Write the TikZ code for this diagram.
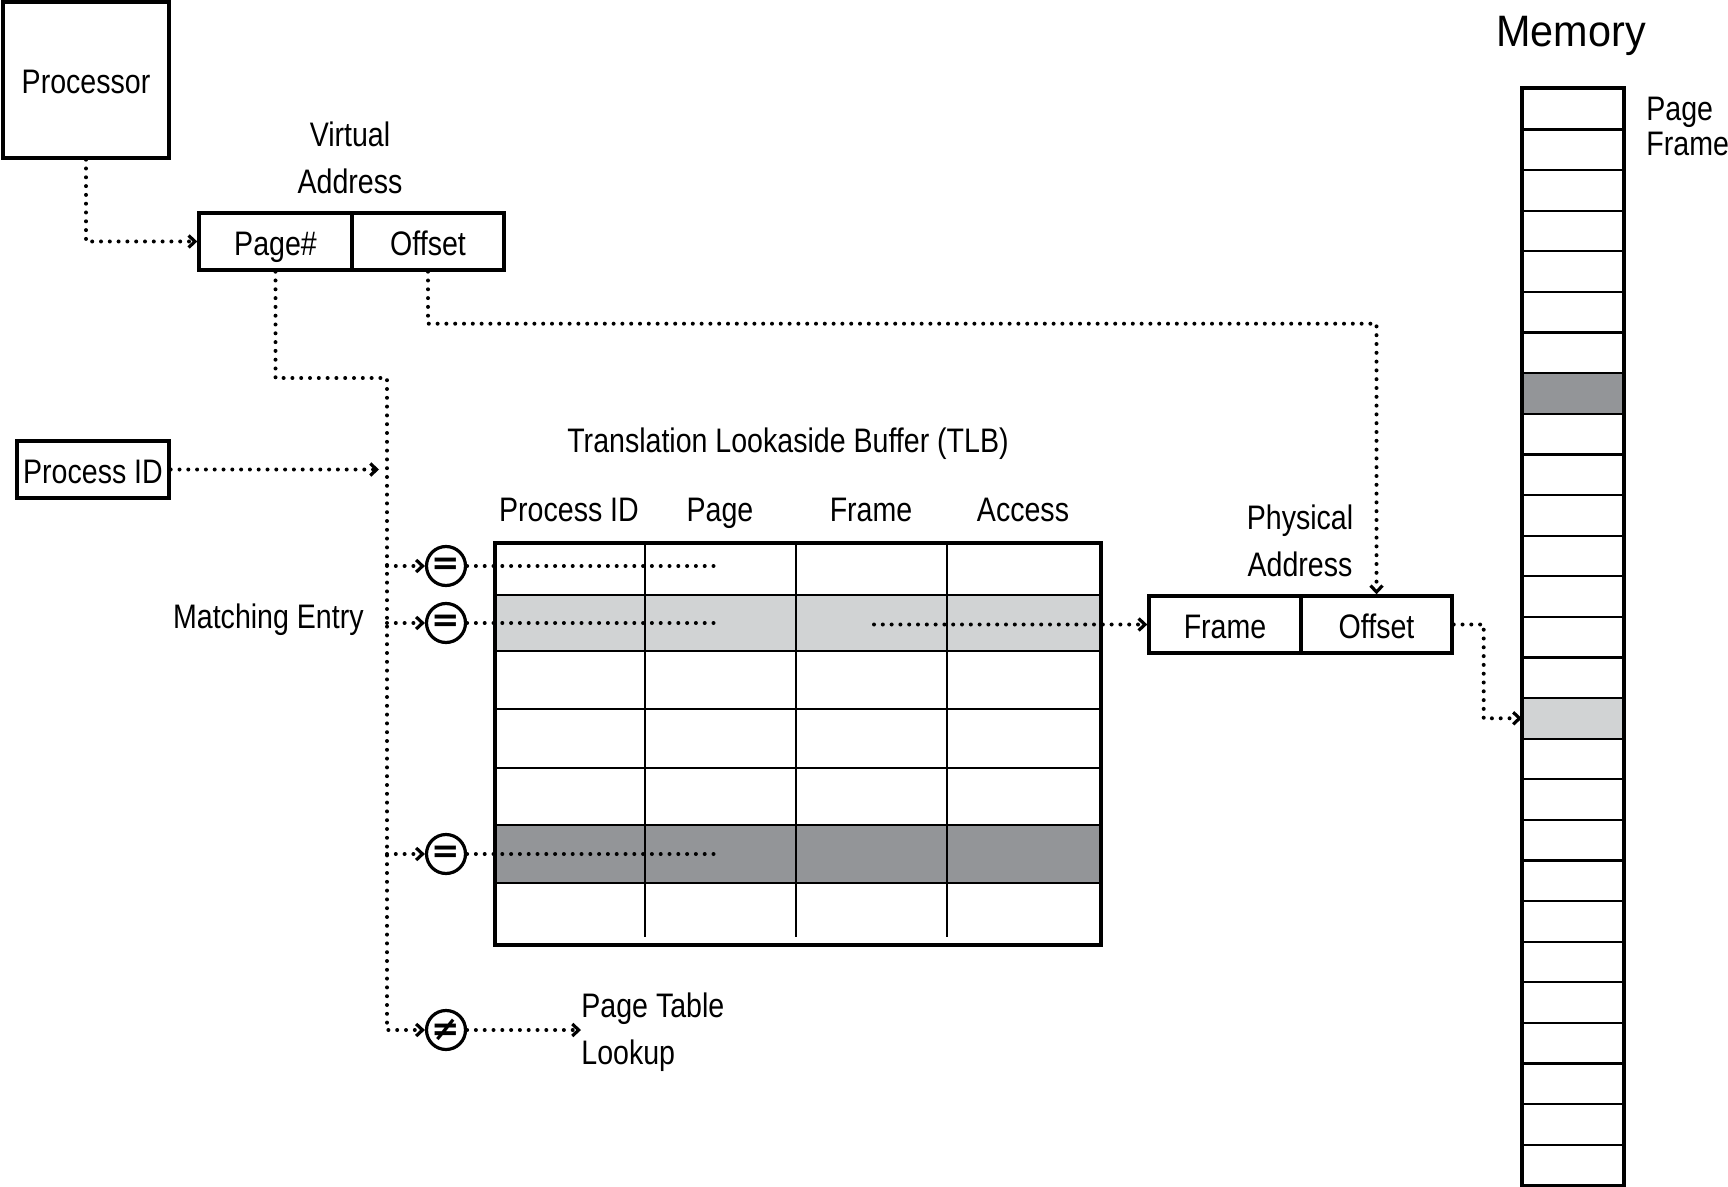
\documentclass[tikz,border=0pt]{standalone}
\usepackage{fontspec}
\setmainfont{Liberation Sans}[FakeStretch=0.84]
\newfontfamily\memfont{Liberation Sans}[FakeStretch=0.94]
\newfontfamily\symfont{DejaVu Sans}
\usetikzlibrary{arrows.meta,calc}
\definecolor{lightg}{HTML}{D1D3D4}
\definecolor{darkg}{HTML}{939598}
\begin{document}
\begin{tikzpicture}[x=0.5pt,y=-0.5pt,
  lab/.style={font=\fontsize{17}{23.5}\selectfont, inner sep=0pt},
  one/.style={text height=17pt, text depth=3.2pt},
  box/.style={draw, line width=1.7pt, inner sep=0pt, font=\fontsize{17}{20}\selectfont, minimum height=28.5pt, one},
  eqc/.style={circle, draw, line width=1.6pt, minimum size=19.5pt, inner sep=0pt, font=\symfont\bfseries\fontsize{17}{17}\selectfont},
  dotl/.style={line width=2pt, line cap=round, dash pattern=on 0pt off 4.4pt},
  arr/.style={dotl, -{Straight Barb[length=3.2pt,width=6pt,line width=1.6pt]}},
  memcell/.style={draw, line width=1.1pt, minimum width=50pt, minimum height=20.3pt, inner sep=0pt},
  thinl/.style={line width=1.1pt},
  thickl/.style={line width=2pt},
]
\useasboundingbox (0,0) rectangle (1728,1187);

% Processor and virtual address
\node[box, minimum width=83pt, minimum height=78pt] (proc) at (86,80) {Processor};
\node[lab, align=center] (valab) at (350,157.5) {Virtual\\Address};
\node[box, minimum width=76.5pt] (pg) at (275.5,241.5) {Page\#};
\node[box, minimum width=76pt] (off) at (428,241.5) {Offset};
\node[box, minimum width=76pt] (pid) at (93,469.5) {Process ID};

% TLB
\node[lab, one] (tlbt) at (788,439) {Translation Lookaside Buffer (TLB)};
\node[lab, one] (h1) at (569,507.3) {Process ID};
\node[lab, one] (h2) at (720,507.3) {Page};
\node[lab, one] (h3) at (871,507.3) {Frame};
\node[lab, one] (h4) at (1023,507.3) {Access};
\fill[lightg] (493,595) rectangle (1099,651);
\fill[darkg] (493,825) rectangle (1099,883);
\foreach \y in {595,651,709,768,825,883} \draw[thinl] (493,\y) -- (1099,\y);
\foreach \x in {645,796,947} \draw[thinl] (\x,541) -- (\x,937);
\node[draw, thickl, minimum width=303pt, minimum height=201pt, anchor=north west, inner sep=0pt] (tlb) at (493,541) {};

\node[lab, one, anchor=east] (match) at (364,615) {Matching Entry};

% comparators
\node[eqc] (e1) at (446,566) {=};
\node[eqc] (e2) at (446,623) {=};
\node[eqc] (e3) at (446,854) {=};
\node[eqc] (ne) at (446,1030) {≠};
\node[lab, align=left, anchor=west] (ptl) at (581,1032) {Page Table\\Lookup};

% physical address
\node[lab, align=center] (palab) at (1300,541) {Physical\\Address};
\node[box, minimum width=76pt] (paf) at (1225,624.5) {Frame};
\node[box, minimum width=75.5pt] (pao) at (1376.5,624.5) {Offset};

% memory
\node[font=\memfont\fontsize{22}{22}\selectfont, anchor=base, inner sep=0pt] (memt) at (1571,47) {Memory};
\foreach \i in {0,...,26} \node[memcell] (m\i) at (1573,{109.3+40.6*\i}) {};
\node[memcell, fill=darkg] at (m7.center) {};
\node[memcell, fill=lightg] at (m15.center) {};
\draw[thickl] (m0.north west) rectangle (m26.south east);
\node[font=\fontsize{17}{17.5}\selectfont, align=left, anchor=west, inner sep=0pt] (pflab) at (1646,126.5) {Page\\Frame};

% connectors
\coordinate (bt) at (387,378);
\coordinate (bb) at (387,1030);
\coordinate (pend) at (718,0);
\coordinate (fst) at (874,624.5);
\draw[arr] (proc.south) |- (pg.west);
\draw[arr] (pg.south) |- (bt) -- (bb) -- (ne.west);
\draw[arr] (pid.east) -- ($(pid.east -| bt)+(-8,0)$);
\draw[arr] (e1 -| bt) -- (e1.west);
\draw[arr] (e2 -| bt) -- (e2.west);
\draw[arr] (e3 -| bt) -- (e3.west);
\draw[dotl] (e1.east) -- (e1 -| pend);
\draw[dotl] (e2.east) -- (e2 -| pend);
\draw[dotl] (e3.east) -- (e3 -| pend);
\draw[arr] (ne.east) -- (ptl.west |- ne.east);
\draw[arr] (fst) -- (paf.west);
\draw[arr] (off.south) -- ++(0,52) -| (pao.north);
\draw[arr] (pao.east) -- ++(30,0) |- (m15.west);
\end{tikzpicture}
\end{document}
